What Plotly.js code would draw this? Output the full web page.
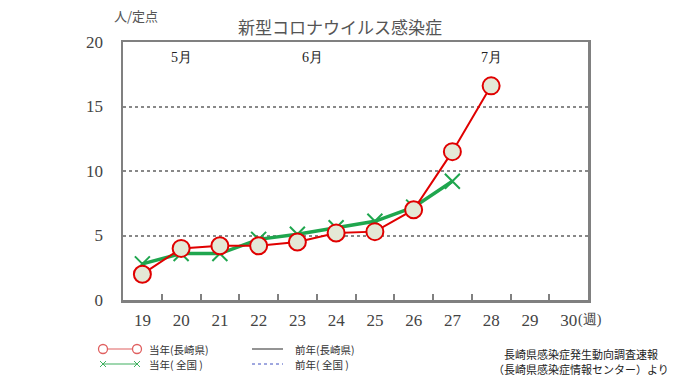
<!DOCTYPE html>
<html><head><meta charset="utf-8">
<script src="https://cdn.plot.ly/plotly-3.0.1.min.js"></script>
<style>body{margin:0;background:#fff}#c{width:680px;height:382px}</style>
</head><body><div id="c"></div>
<script>
const weeks = [19,20,21,22,23,24,25,26,27,28,29,30];
const nagasakiWeeks = [19,20,21,22,23,24,25,26,27,28];
const nagasakiValues = [2.0,4.0,4.2,4.2,4.5,5.2,5.3,7.0,11.5,16.6];
const nationalWeeks = [19,20,21,22,23,24,25,26,27];
const nationalValues = [2.8,3.6,3.6,4.7,5.1,5.6,6.1,7.2,9.2];
const yTicks = [0,5,10,15,20];
const months = [{label:'5月', week:20},{label:'6月', week:23.4},{label:'7月', week:28}];
const legendLabels = ['当年(長崎県)', '当年( 全国 )', '前年(長崎県)', '前年( 全国 )'];
const sourceLines = ['長崎県感染症発生動向調査速報', '（長崎県感染症情報センター）より'];

const serif = 'Liberation Serif, DejaVu Serif, serif';
const jp = 'Noto Sans CJK JP, sans-serif';
const RED = '#e00000', GREEN = '#1fa64e';

// layout geometry helpers (page pixels -> paper fraction)
const M = {l: 123, r: 92, t: 42, b: 82};
const PW = 680 - M.l - M.r, PH = 382 - M.t - M.b;
const px = v => (v - M.l) / PW;
const py = v => (382 - M.b - v) / PH;

const traces = [
  {x: nationalWeeks, y: nationalValues, name: legendLabels[1], mode: 'lines+markers',
   line: {color: GREEN, width: 3.5}, marker: {symbol: 'x-thin-open', size: 15, line: {color: GREEN, width: 2}}},
  {x: nagasakiWeeks, y: nagasakiValues, name: legendLabels[0], mode: 'lines+markers',
   line: {color: RED, width: 2}, marker: {symbol: 'circle', size: 17, color: '#e4e8d6', line: {color: RED, width: 2}}},
  {x: weeks, y: weeks.map(() => null), xaxis: 'x2', showlegend: false, hoverinfo: 'skip', mode: 'lines'}
];

const annotations = months.map(m => ({x: m.week, y: 18.8, xref: 'x', yref: 'y', text: m.label, showarrow: false,
  font: {family: serif, size: 14, color: '#222'}}));
annotations.push({xref: 'paper', yref: 'paper', x: px(112), y: py(15), yanchor: 'middle', text: '人/定点', showarrow: false,
  font: {family: jp, size: 13, color: '#555'}});
annotations.push({xref: 'paper', yref: 'paper', x: px(576), y: py(320), xanchor: 'left', yanchor: 'middle', text: '(週)', showarrow: false,
  font: {family: serif, size: 14, color: '#444'}});
sourceLines.forEach((t, i) => annotations.push({xref: 'paper', yref: 'paper', x: px(581), y: py(354 + i * 15), xanchor: 'center', yanchor: 'middle',
  text: t, showarrow: false, font: {family: jp, size: 11, color: '#222'}}));
// legend texts
[[147, 349, 0], [147, 364, 1], [293, 349, 2], [293, 364, 3]].forEach(([x, y, i]) => {
  annotations.push({xref: 'paper', yref: 'paper', x: px(x), y: py(y), xanchor: 'left', yanchor: 'middle',
    text: legendLabels[i], showarrow: false, font: {family: jp, size: 10.5, color: '#333'}});
});

// legend swatches
const shapes = [];
const seg = (x0, y0, x1, y1, color, width, dash) => shapes.push({type: 'line', xref: 'paper', yref: 'paper',
  x0: px(x0), y0: py(y0), x1: px(x1), y1: py(y1), line: {color, width, dash: dash || 'solid'}});
seg(103, 349, 137, 349, '#e06060', 1.2);
[103, 137].forEach(cx => shapes.push({type: 'circle', xref: 'paper', yref: 'paper',
  x0: px(cx - 4.5), x1: px(cx + 4.5), y0: py(349 - 4.5), y1: py(349 + 4.5),
  fillcolor: '#fff', line: {color: '#e06060', width: 1.3}}));
seg(103, 364, 137, 364, '#40b060', 1.2);
[103, 137].forEach(cx => { seg(cx - 3, 361, cx + 3, 367, '#40b060', 1); seg(cx - 3, 367, cx + 3, 361, '#40b060', 1); });
seg(252, 349, 283, 349, '#707070', 1.5);
seg(252, 364, 283, 364, '#4050c0', 1, 'dot');

const layout = {
  width: 680, height: 382, margin: M, showlegend: false,
  paper_bgcolor: '#fff', plot_bgcolor: '#fff',
  title: {text: '新型コロナウイルス感染症', xref: 'container', yref: 'container', x: 0.5, y: 1 - 28 / 382, xanchor: 'center', yanchor: 'middle',
    font: {family: jp, size: 17, color: '#555'}},
  xaxis: {range: [18.5, 30.5], tickmode: 'linear', tick0: 18.5, dtick: 1, ticks: 'inside', ticklen: 6, tickwidth: 2, tickcolor: '#808080',
    showticklabels: false, showgrid: false, zeroline: false, showline: true, linecolor: '#808080', linewidth: 2.5, mirror: true, automargin: false},
  xaxis2: {overlaying: 'x', range: [18.5, 30.5], tickmode: 'array', tickvals: weeks, ticktext: weeks.map(String), side: 'bottom',
    ticks: '', showgrid: false, zeroline: false, showline: false, ticklabelstandoff: 8, automargin: false,
    tickfont: {family: serif, size: 17, color: '#444'}},
  yaxis: {range: [0, 20], tickmode: 'array', tickvals: yTicks, ticks: '', showgrid: true, griddash: 'dot', gridcolor: '#888', gridwidth: 2,
    zeroline: false, showline: true, linecolor: '#808080', linewidth: 2.5, mirror: true, ticklabelstandoff: 14, automargin: false,
    tickfont: {family: serif, size: 17, color: '#444'}},
  annotations, shapes
};
Plotly.newPlot('c', traces, layout, {displayModeBar: false, staticPlot: true});
</script></body></html>
